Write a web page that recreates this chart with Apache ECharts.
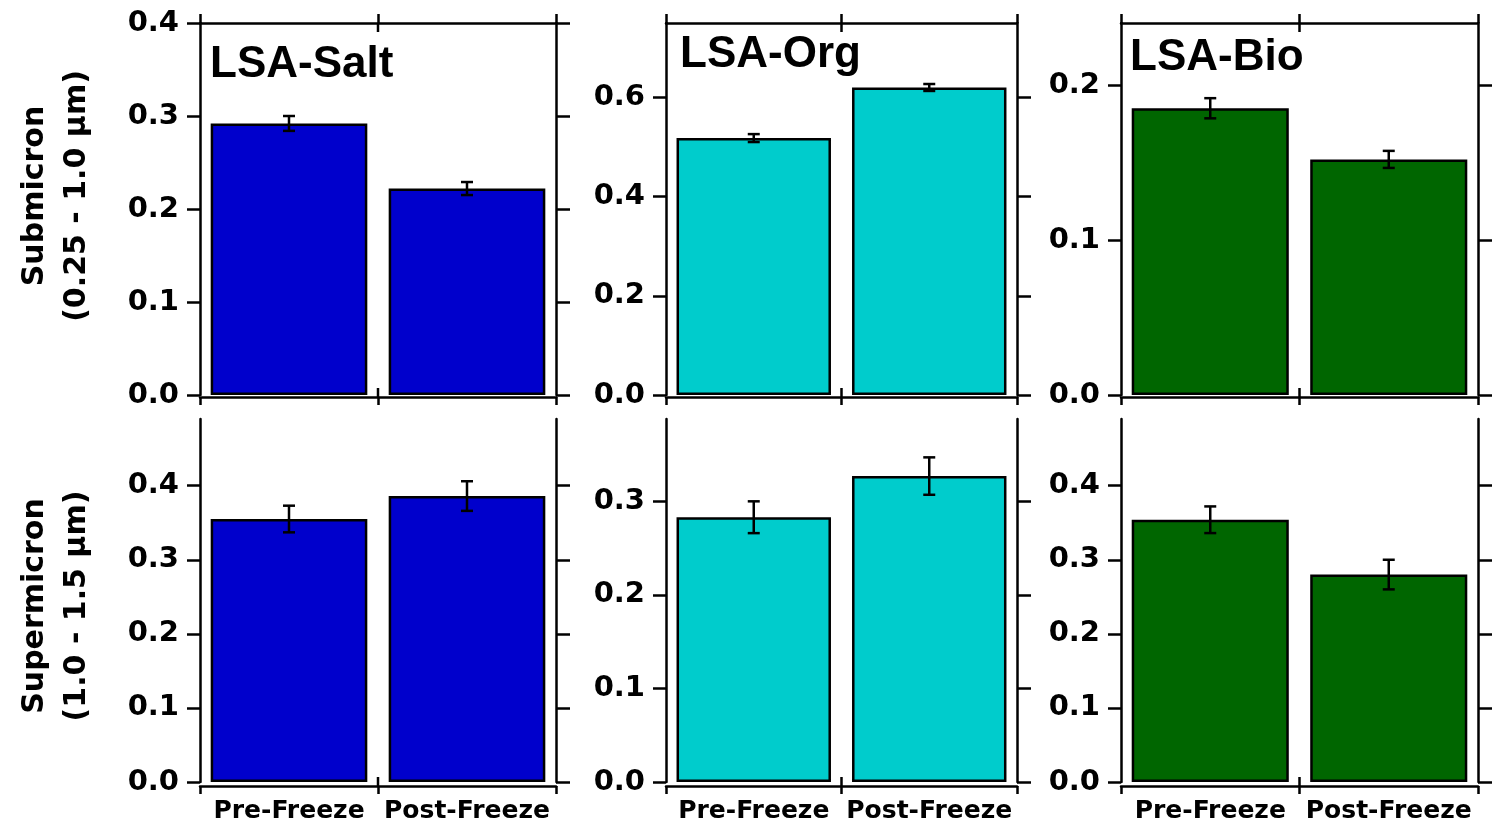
<!DOCTYPE html>
<html>
<head>
<meta charset="utf-8">
<script src="https://cdn.jsdelivr.net/npm/echarts@6/dist/echarts.min.js"></script>
<style>
  html, body { margin: 0; padding: 0; background: #fff; }
  #chart { width: 1495px; height: 828px; }
</style>
</head>
<body>
<div id="chart"></div>
<script>
// Categories and labels
const categories = ['Pre-Freeze', 'Post-Freeze'];
const panelTitles = ['LSA-Salt', 'LSA-Org', 'LSA-Bio'];
const rowTitles = ['Submicron\n(0.25 - 1.0 \u00b5m)', 'Supermicron\n(1.0 - 1.5 \u00b5m)'];

// Submicron (0.25 - 1.0 um): mean values and error half-widths
const saltSub = [0.292, 0.222];
const saltSubErr = [0.008, 0.007];
const orgSub = [0.518, 0.620];
const orgSubErr = [0.008, 0.007];
const bioSub = [0.185, 0.152];
const bioSubErr = [0.0065, 0.0055];

// Supermicron (1.0 - 1.5 um)
const saltSuper = [0.355, 0.386];
const saltSuperErr = [0.018, 0.020];
const orgSuper = [0.283, 0.327];
const orgSuperErr = [0.017, 0.020];
const bioSuper = [0.354, 0.280];
const bioSuperErr = [0.018, 0.020];

// Axis ranges and tick values per panel
const axisMax = [0.4, 0.75, 0.24, 0.49, 0.388, 0.49];
const ticksSaltSub = [0, 0.1, 0.2, 0.3, 0.4];
const ticksOrgSub = [0, 0.2, 0.4, 0.6];
const ticksBioSub = [0, 0.1, 0.2];
const ticksSaltSuper = [0, 0.1, 0.2, 0.3, 0.4];
const ticksOrgSuper = [0, 0.1, 0.2, 0.3];
const ticksBioSuper = [0, 0.1, 0.2, 0.3, 0.4];

const panelValues = [saltSub, orgSub, bioSub, saltSuper, orgSuper, bioSuper];
const panelErrors = [saltSubErr, orgSubErr, bioSubErr, saltSuperErr, orgSuperErr, bioSuperErr];
const panelTicks = [ticksSaltSub, ticksOrgSub, ticksBioSub, ticksSaltSuper, ticksOrgSuper, ticksBioSuper];
const colColors = ['#0000cc', '#00cccc', '#006600'];

// Layout of the 3 x 2 panel grid
const columns = [
  { left: 200, width: 356 },
  { left: 666, width: 351 },
  { left: 1121, width: 357 }
];
const rows = [
  { top: 23, height: 372, xOffset: 2 },
  { top: 419, height: 363, xOffset: 4 }
];

const BLACK = '#000';
const LW = 2.5;
const tickFont = { fontFamily: 'DejaVu Sans', fontWeight: 'bold', color: BLACK };

function renderErrorBar(params, api) {
  const x = api.value(0);
  const pLo = api.coord([x, api.value(1)]);
  const pHi = api.coord([x, api.value(2)]);
  const half = 6;
  const style = { stroke: BLACK, lineWidth: LW };
  return {
    type: 'group',
    children: [
      { type: 'line', shape: { x1: pHi[0], y1: pHi[1], x2: pLo[0], y2: pLo[1] }, style },
      { type: 'line', shape: { x1: pHi[0] - half, y1: pHi[1], x2: pHi[0] + half, y2: pHi[1] }, style },
      { type: 'line', shape: { x1: pLo[0] - half, y1: pLo[1], x2: pLo[0] + half, y2: pLo[1] }, style }
    ]
  };
}

const grid = [], xAxis = [], yAxis = [], series = [];
const bottomAxisOf = [];

for (let r = 0; r < 2; r++) {
  for (let c = 0; c < 3; c++) {
    const k = r * 3 + c;
    grid.push({
      left: columns[c].left, width: columns[c].width,
      top: rows[r].top, height: rows[r].height,
      containLabel: false, outerBoundsMode: 'none'
    });

    const xBottom = xAxis.length;
    bottomAxisOf.push(xBottom);
    xAxis.push({
      gridIndex: k, type: 'category', data: categories, position: 'bottom',
      offset: rows[r].xOffset, boundaryGap: true,
      axisLine: { show: true, onZero: false, lineStyle: { color: BLACK, width: LW } },
      axisTick: { show: true, inside: false, length: 8, interval: 0, lineStyle: { color: BLACK, width: LW } },
      axisLabel: { show: r === 1, interval: 0, fontSize: 25, margin: 13, ...tickFont },
      splitLine: { show: false }
    });
    if (r === 0) {
      xAxis.push({
        gridIndex: k, type: 'category', data: categories, position: 'top', boundaryGap: true,
        axisLine: { show: true, onZero: false, lineStyle: { color: BLACK, width: LW } },
        axisTick: { show: true, inside: false, length: 9, interval: 0, lineStyle: { color: BLACK, width: LW } },
        axisLabel: { show: false },
        splitLine: { show: false }
      });
    }

    const yLeft = yAxis.length;
    yAxis.push({
      gridIndex: k, type: 'value', position: 'left', min: 0, max: axisMax[k],
      axisLine: { show: true, onZero: false, lineStyle: { color: BLACK, width: LW } },
      axisTick: { show: true, inside: false, length: 13, customValues: panelTicks[k], lineStyle: { color: BLACK, width: LW } },
      axisLabel: {
        show: true, customValues: panelTicks[k], fontSize: 29, margin: 21, ...tickFont,
        formatter: v => Number(v).toFixed(1)
      },
      splitLine: { show: false }
    });
    yAxis.push({
      gridIndex: k, type: 'value', position: 'right', min: 0, max: axisMax[k],
      axisLine: { show: true, onZero: false, lineStyle: { color: BLACK, width: LW } },
      axisTick: { show: true, inside: false, length: 14, customValues: panelTicks[k], lineStyle: { color: BLACK, width: LW } },
      axisLabel: { show: false },
      splitLine: { show: false }
    });

    const vals = panelValues[k];
    const errs = panelErrors[k];
    series.push({
      type: 'bar', xAxisIndex: xBottom, yAxisIndex: yLeft,
      data: vals, barWidth: '88%',
      itemStyle: { color: colColors[c], borderColor: BLACK, borderWidth: LW },
      silent: true, z: 2
    });
    series.push({
      type: 'custom', xAxisIndex: xBottom, yAxisIndex: yLeft,
      renderItem: renderErrorBar,
      encode: { x: 0, y: [1, 2] },
      data: vals.map((v, i) => [i, v - errs[i], v + errs[i]]),
      silent: true, z: 5
    });
  }
}

// Panel titles and row titles
const titleSpots = [[210, 65], [680, 55], [1130, 58]];
const graphic = panelTitles.map((t, i) => ({
  type: 'text', x: titleSpots[i][0], y: titleSpots[i][1], z: 10,
  style: {
    text: t, fill: BLACK, align: 'left', verticalAlign: 'middle',
    font: 'bold 44px "Liberation Sans", Arial, sans-serif'
  }
}));
const rowSpots = [[56, 196], [56, 606]];
rowTitles.forEach((t, i) => {
  graphic.push({
    type: 'text', x: rowSpots[i][0], y: rowSpots[i][1], rotation: Math.PI / 2, z: 10,
    style: {
      text: t, fill: BLACK, align: 'center', verticalAlign: 'middle',
      font: 'bold 30px "DejaVu Sans", sans-serif', lineHeight: 42
    }
  });
});

const chart = echarts.init(document.getElementById('chart'), null, { renderer: 'canvas' });
chart.setOption({
  animation: false,
  backgroundColor: '#fff',
  grid, xAxis, yAxis, series, graphic
});

// The tick between the two categories also reaches a little way inside the frame
const INNER_TICK = 9;
for (let r = 0; r < 2; r++) {
  for (let c = 0; c < 3; c++) {
    const k = r * 3 + c;
    const xi = bottomAxisOf[k];
    const p0 = chart.convertToPixel({ xAxisIndex: xi }, categories[0]);
    const p1 = chart.convertToPixel({ xAxisIndex: xi }, categories[1]);
    const bx = (p0 + p1) / 2;
    const yBottom = rows[r].top + rows[r].height + rows[r].xOffset;
    graphic.push({
      type: 'line', z: 10, silent: true,
      shape: { x1: bx, y1: yBottom, x2: bx, y2: yBottom - INNER_TICK },
      style: { stroke: BLACK, lineWidth: LW }
    });
    if (r === 0) {
      const yTop = rows[r].top;
      graphic.push({
        type: 'line', z: 10, silent: true,
        shape: { x1: bx, y1: yTop, x2: bx, y2: yTop + INNER_TICK },
        style: { stroke: BLACK, lineWidth: LW }
      });
    }
  }
}
chart.setOption({ graphic });
</script>
</body>
</html>
